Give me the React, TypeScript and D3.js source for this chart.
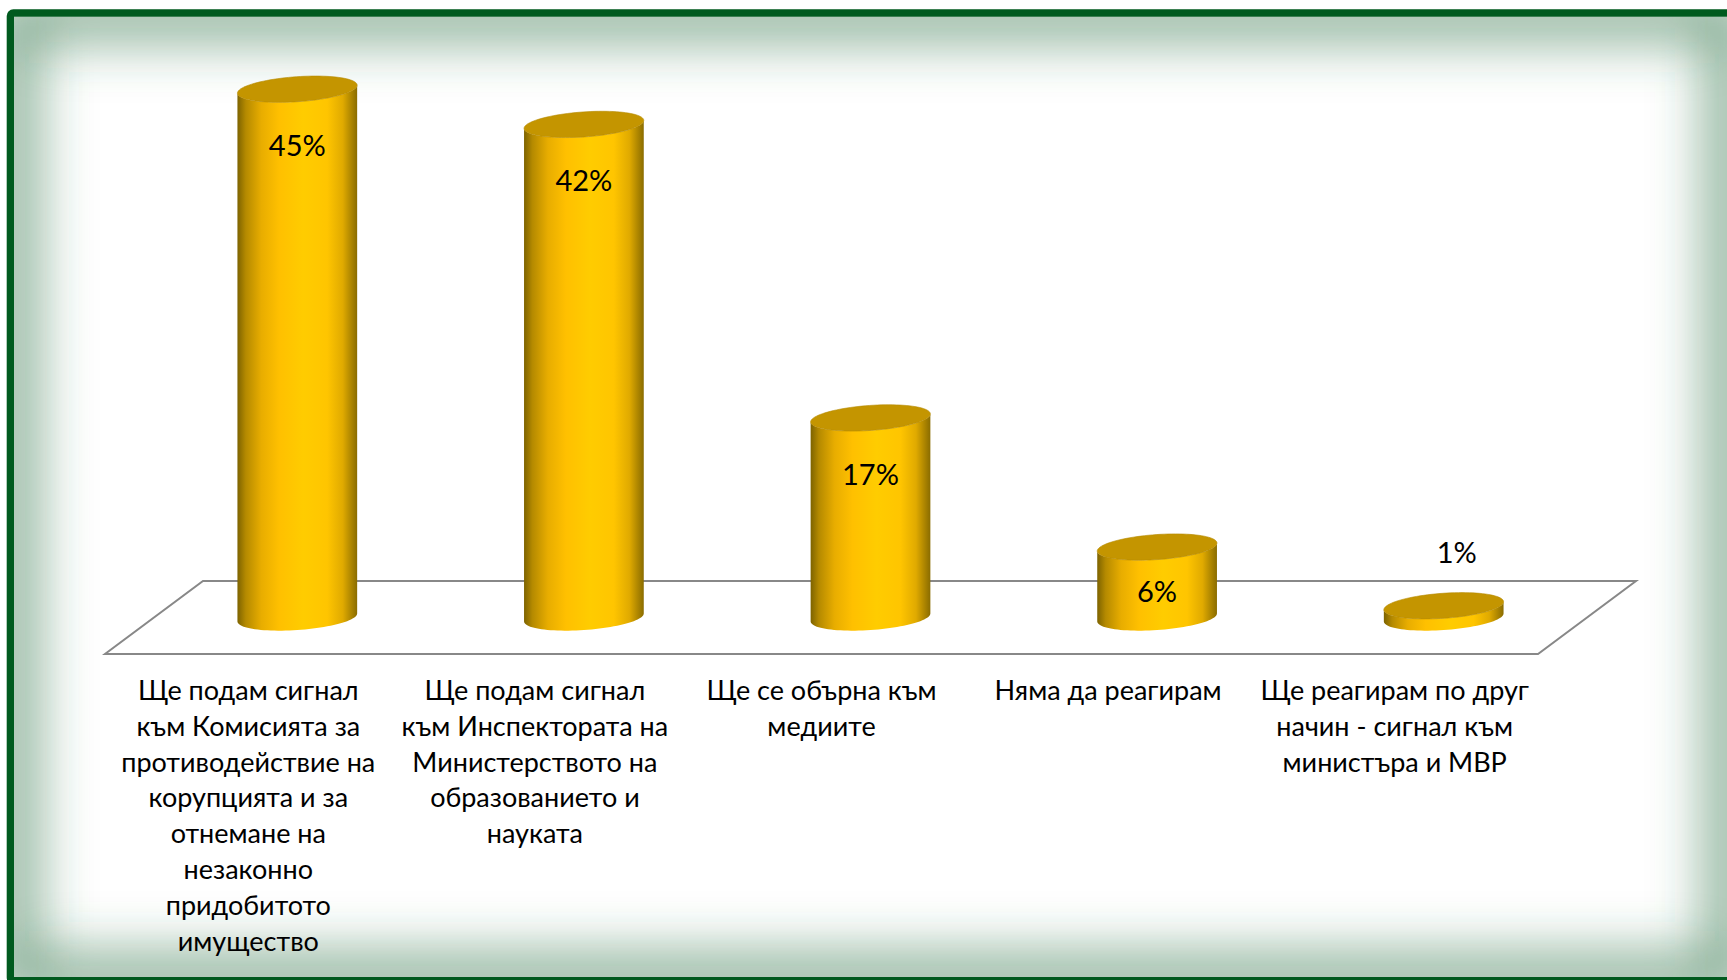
import React from "react";
import * as d3 from "d3";

const categories: string[][] = [
  ["Ще подам сигнал", "към Комисията за", "противодействие на", "корупцията и за", "отнемане на", "незаконно", "придобитото", "имущество"],
  ["Ще подам сигнал", "към Инспектората на", "Министерството на", "образованието и", "науката"],
  ["Ще се обърна към", "медиите"],
  ["Няма да реагирам"],
  ["Ще реагирам по друг", "начин - сигнал към", "министъра и МВР"],
];
const values: number[] = [45, 42, 17, 6, 1];

const W = 1727;
const H = 980;

export default function App() {
  const frontLeft = 105;
  const frontRight = 1538;
  const frontY = 654;
  const depthX = 98;
  const depthY = 73;
  const baseY = frontY - depthY / 2;

  const x = d3
    .scaleBand<number>()
    .domain(values.map((_, i) => i))
    .range([frontLeft, frontRight])
    .paddingInner(0)
    .paddingOuter(0);
  const bw = x.bandwidth();
  const h = d3.scaleLinear().domain([0, 45]).range([0, 528.3]);

  const rx = 60;
  const ry = 12.5;
  const phi = (-4 * Math.PI) / 180;
  const t0 = Math.atan2(-ry * Math.sin(phi), rx * Math.cos(phi));
  const pt = (cx: number, cy: number, t: number): [number, number] => [
    cx + rx * Math.cos(t) * Math.cos(phi) - ry * Math.sin(t) * Math.sin(phi),
    cy + rx * Math.cos(t) * Math.sin(phi) + ry * Math.sin(t) * Math.cos(phi),
  ];
  const line = d3.line();
  const N = 48;

  const bodyPath = (cx: number, top: number, bot: number) => {
    const pts: [number, number][] = [];
    pts.push(pt(cx, top, t0 + Math.PI));
    for (let k = 0; k <= N; k++) {
      const t = t0 + Math.PI - (Math.PI * k) / N;
      pts.push(pt(cx, bot, t));
    }
    for (let k = 0; k <= N; k++) {
      const t = t0 + (Math.PI * k) / N;
      pts.push(pt(cx, top, t));
    }
    return line(pts) + "Z";
  };
  const topPath = (cx: number, top: number) => {
    const pts: [number, number][] = [];
    for (let k = 0; k <= 96; k++) pts.push(pt(cx, top, (2 * Math.PI * k) / 96));
    return line(pts) + "Z";
  };

  const floor = line([
    [frontLeft + depthX, frontY - depthY],
    [frontRight + depthX, frontY - depthY],
    [frontRight, frontY],
    [frontLeft, frontY],
  ]) + "Z";

  const inX0 = 14, inY0 = 16.7, inX1 = 1730, inY1 = 977;

  return (
    <div style={{ position: "absolute", left: 0, top: 0 }}>
      <svg width={W} height={H} style={{ display: "block" }} fontFamily="Lato, 'Noto Sans', sans-serif">
        <defs>
          <linearGradient id="body" x1="0" x2="1" y1="0" y2="0">
            <stop offset="0" stopColor="#7d6300" />
            <stop offset="0.07" stopColor="#b58a00" />
            <stop offset="0.2" stopColor="#e8ad00" />
            <stop offset="0.35" stopColor="#ffc000" />
            <stop offset="0.55" stopColor="#ffcc00" />
            <stop offset="0.75" stopColor="#ffc500" />
            <stop offset="0.88" stopColor="#e0aa00" />
            <stop offset="1" stopColor="#8a6c00" />
          </linearGradient>
          <clipPath id="inner">
            <rect x={inX0} y={inY0} width={inX1 - inX0} height={inY1 - inY0} />
          </clipPath>
          <filter id="blur" x="-10%" y="-10%" width="120%" height="120%">
            <feGaussianBlur stdDeviation={28} />
          </filter>
        </defs>
        <rect x={0} y={0} width={W} height={H} fill="#ffffff" />
        <g clipPath="url(#inner)">
          <rect x={inX0} y={inY0} width={inX1 - inX0} height={inY1 - inY0} fill="#ffffff" />
          <rect
            x={inX0}
            y={inY0}
            width={inX1 - inX0}
            height={inY1 - inY0}
            fill="none"
            stroke="#2f7247"
            strokeOpacity={0.7}
            strokeWidth={40}
            filter="url(#blur)"
          />
        </g>
        <rect x={10.35} y={13} width={W + 10} height={967.6} rx={3} fill="none" stroke="#005a1e" strokeWidth={7.3} />

        <path d={floor} fill="none" stroke="#888888" strokeWidth={2} />

        {values.map((v, i) => {
          const cx = (x(i) as number) + bw / 2 + depthX / 2;
          const top = baseY - h(v);
          const barH = h(v);
          const label = `${v}%`;
          let ly: number;
          let lx = cx;
          if (barH > 40) {
            ly = Math.min(top + 67, baseY - 16);
          } else {
            ly = top - 43;
            lx = cx + 13;
          }
          return (
            <g key={i}>
              <path d={bodyPath(cx, top, baseY)} fill="url(#body)" />
              <path d={topPath(cx, top)} fill="#c49500" stroke="#b68a00" strokeWidth={0.6} />
              <text x={lx} y={ly} textAnchor="middle" fontSize={29} fill="#000">
                {label}
              </text>
            </g>
          );
        })}

        {categories.map((lines, i) => {
          const cx = (x(i) as number) + bw / 2;
          return (
            <text key={i} textAnchor="middle" fontSize={27} fill="#000">
              {lines.map((l, j) => (
                <tspan key={j} x={cx} y={700 + j * 35.8}>
                  {l}
                </tspan>
              ))}
            </text>
          );
        })}
      </svg>
    </div>
  );
}
